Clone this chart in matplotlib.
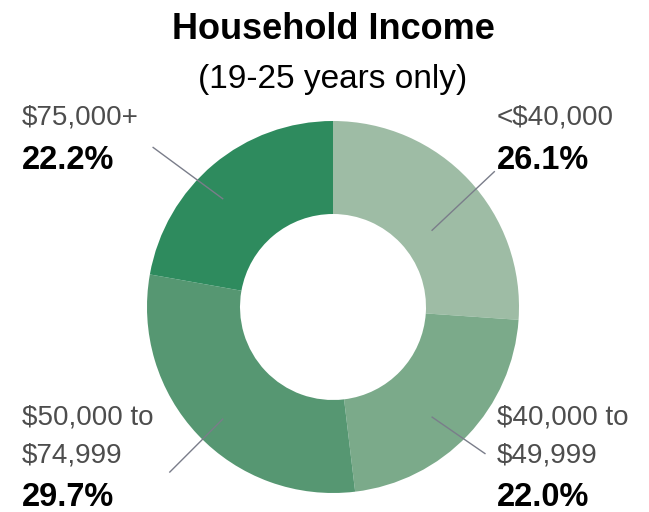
import matplotlib.pyplot as plt

# Household income shares (19-25 years only)
categories = ["<$40,000", "$40,000 to\n$49,999", "$50,000 to\n$74,999", "$75,000+"]
shares = [26.1, 22.0, 29.7, 22.2]
colors = ["#9ebca5", "#7baa8a", "#569772", "#2e8b5e"]

# leader lines (inner point, outer point) in axes data units, radius 1 = outer edge
leaders = [
    ((0.53, 0.41), (0.87, 0.73)),
    ((0.53, -0.59), (0.82, -0.79)),
    ((-0.59, -0.60), (-0.88, -0.89)),
    ((-0.59, 0.58), (-0.97, 0.86)),
]

plt.rcParams["font.family"] = ["Liberation Sans", "DejaVu Sans"]

fig = plt.figure(figsize=(6.49, 5.12), dpi=100)

# Axes placed so the donut sits at the same spot as the reference
W, H = 649, 512
ax = fig.add_axes([147 / W, (H - 493) / H, 372 / W, 372 / H])
ax.pie(
    shares,
    colors=colors,
    startangle=90,
    counterclock=False,
    radius=1.0,
    wedgeprops=dict(width=0.5, linewidth=0),
)
ax.set_xlim(-1, 1)
ax.set_ylim(-1, 1)
ax.set_aspect("equal")
ax.axis("off")

for (p0, p1) in leaders:
    ax.plot([p0[0], p1[0]], [p0[1], p1[1]], color="#7a7d8a", linewidth=1.0,
            solid_capstyle="butt", clip_on=False)

# Title
fig.text(333 / W, 1 - 39 / H, "Household Income", ha="center", va="baseline",
         fontsize=26, fontweight="bold", color="black")
fig.text(333 / W, 1 - 88 / H, "(19-25 years only)", ha="center", va="baseline",
         fontsize=24, color="black")

label_color = "#4d4d4d"
lab_size = 20
pct_size = 23.5

# label anchor positions in pixels: (x, baselines of label lines, baseline of percentage)
label_pos = [
    (497, [124], 169),
    (497, [425, 462], 506),
    (22, [425, 462], 506),
    (22, [124], 169),
]

for cat, val, (x, ys, yp) in zip(categories, shares, label_pos):
    for line, y in zip(cat.split("\n"), ys):
        fig.text(x / W, 1 - y / H, line, ha="left", va="baseline",
                 fontsize=lab_size, color=label_color)
    fig.text(x / W, 1 - yp / H, f"{val:.1f}%", ha="left", va="baseline",
             fontsize=pct_size, fontweight="bold", color="black")

fig.savefig("out.png", dpi=100)
